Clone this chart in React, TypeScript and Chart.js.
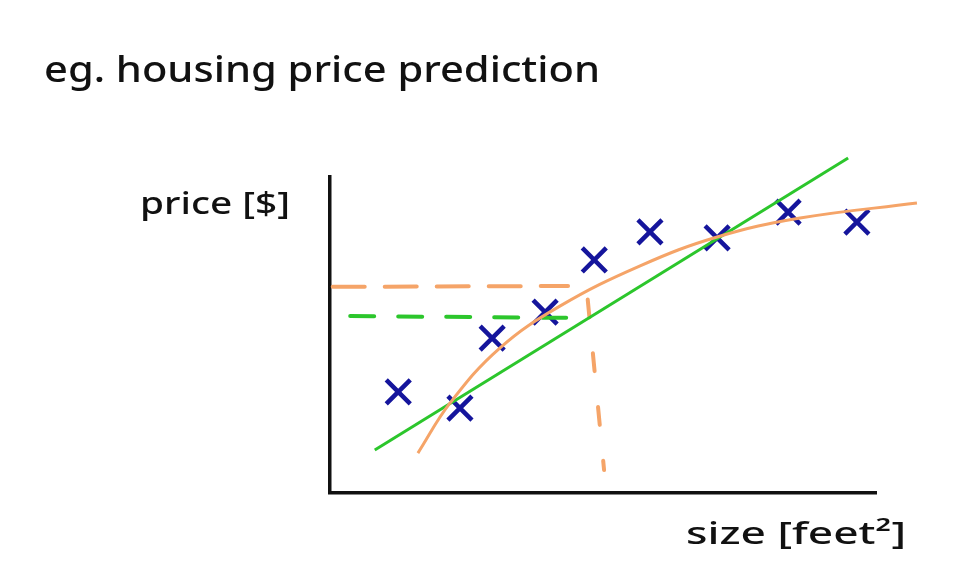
import React, { useEffect, useRef } from "react";
import { Chart, registerables } from "chart.js";

Chart.register(...registerables);

// Observed houses: size (arbitrary units) vs price (arbitrary units)
const sizes = [1.25, 2.38, 2.97, 3.94, 4.84, 5.86, 7.09, 8.39, 9.65];
const prices = [2.56, 2.15, 3.92, 4.58, 5.9, 6.61, 6.46, 7.11, 6.86];

// Straight-line fit (green)
const lineFitSizes = [0.82, 9.49];
const lineFitPrices = [1.09, 8.48];

// Curved fit (orange)
const curveFitSizes = [1.61, 2.2, 3.11, 4.21, 5.68, 7.09, 8.61, 10.75];
const curveFitPrices = [1.01, 2.28, 3.67, 4.73, 5.75, 6.48, 6.96, 7.34];

// Prediction guides
const curveGuideHSizes = [0.05, 4.36];
const curveGuideHPrices = [5.22, 5.24];
const curveGuideVSizes = [4.72, 5.02];
const curveGuideVPrices = [4.9, 0.58];
const lineGuideSizes = [0.37, 4.73];
const lineGuidePrices = [4.48, 4.43];

// Texts
const titleText = "eg. housing price prediction";
const yAxisLabel = "price [$]";
const xAxisLabel = "size [feet²]";

const toPoints = (xs: number[], ys: number[]) => xs.map((x, i) => ({ x, y: ys[i] }));

const ORANGE = "#f5a468";
const GREEN = "#2cc62c";
const BLUE = "#15159c";
const INK = "#111111";

function drawFitted(ctx: CanvasRenderingContext2D, text: string, x: number, y: number, width: number, font: string) {
  ctx.save();
  ctx.font = font;
  const w = ctx.measureText(text).width;
  ctx.translate(x, y);
  ctx.scale(width / w, 1);
  ctx.textAlign = "left";
  ctx.textBaseline = "alphabetic";
  ctx.fillText(text, 0, 0);
  ctx.restore();
}

const textPlugin = {
  id: "sketchText",
  afterDraw(chart: any) {
    const ctx = chart.ctx as CanvasRenderingContext2D;
    ctx.save();
    ctx.fillStyle = INK;
    drawFitted(ctx, titleText, 44, 82, 556, '500 36px "Noto Sans"');
    drawFitted(ctx, yAxisLabel, 140, 214, 150, '500 31px "Noto Sans"');
    drawFitted(ctx, xAxisLabel, 686, 544, 220, '500 31px "Noto Sans"');
    ctx.restore();
  },
};

export default function App() {
  const ref = useRef<HTMLCanvasElement | null>(null);

  useEffect(() => {
    if (!ref.current) return;
    const chart = new Chart(ref.current, {
      type: "scatter",
      data: {
        datasets: [
          {
            type: "line",
            label: "curve fit",
            data: toPoints(curveFitSizes, curveFitPrices),
            borderColor: ORANGE,
            borderWidth: 3,
            pointRadius: 0,
            tension: 0.4,
            fill: false,
            clip: false,
            order: 1,
          },
          {
            type: "line",
            label: "line fit",
            data: toPoints(lineFitSizes, lineFitPrices),
            borderColor: GREEN,
            borderWidth: 3,
            pointRadius: 0,
            fill: false,
            clip: false,
            order: 2,
          },
          {
            type: "line",
            label: "curve guide h",
            data: toPoints(curveGuideHSizes, curveGuideHPrices),
            borderColor: ORANGE,
            borderWidth: 4,
            borderDash: [32, 20],
            borderCapStyle: "round",
            pointRadius: 0,
            fill: false,
            clip: false,
            order: 3,
          },
          {
            type: "line",
            label: "curve guide v",
            data: toPoints(curveGuideVSizes, curveGuideVPrices),
            borderColor: ORANGE,
            borderWidth: 4,
            borderDash: [18, 36],
            borderCapStyle: "round",
            pointRadius: 0,
            fill: false,
            clip: false,
            order: 4,
          },
          {
            type: "line",
            label: "line guide",
            data: toPoints(lineGuideSizes, lineGuidePrices),
            borderColor: GREEN,
            borderWidth: 4,
            borderDash: [24, 24],
            borderCapStyle: "round",
            pointRadius: 0,
            fill: false,
            clip: false,
            order: 5,
          },
          {
            type: "scatter",
            label: "houses",
            data: toPoints(sizes, prices),
            pointStyle: "crossRot",
            pointRadius: 17,
            pointBorderWidth: 4.5,
            borderColor: BLUE,
            backgroundColor: BLUE,
            clip: false,
            order: 6,
          },
        ],
      },
      options: {
        responsive: false,
        animation: false,
        layout: { padding: { left: 330, top: 177, right: 90, bottom: 93 } },
        plugins: {
          legend: { display: false },
          tooltip: { enabled: false },
          title: { display: false },
        },
        scales: {
          x: {
            type: "linear",
            min: 0,
            max: 10,
            display: true,
            grid: { display: false, drawTicks: false },
            ticks: { display: false },
            border: { display: true, color: INK, width: 3.5 },
          },
          y: {
            type: "linear",
            min: 0,
            max: 8,
            display: true,
            grid: { display: false, drawTicks: false },
            ticks: { display: false },
            border: { display: true, color: INK, width: 3.5 },
          },
        },
      },
      plugins: [textPlugin],
    } as any);
    return () => chart.destroy();
  }, []);

  return (
    <div style={{ position: "absolute", left: 0, top: 0, width: 966, height: 586, background: "#fff" }}>
      <canvas ref={ref} width={966} height={586} style={{ display: "block", width: 966, height: 586 }} />
    </div>
  );
}
